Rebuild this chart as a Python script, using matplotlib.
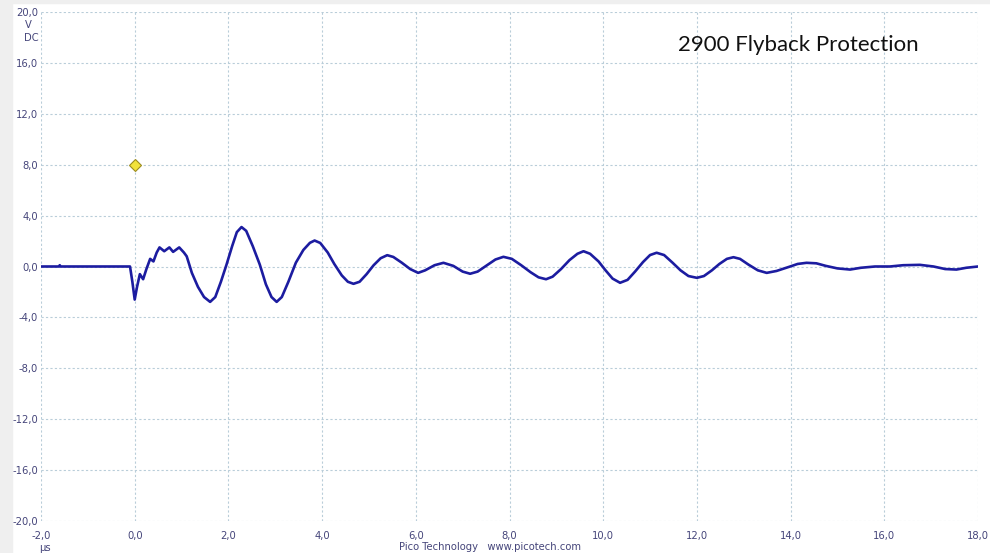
import matplotlib.pyplot as plt
from matplotlib.patches import Rectangle

# trace (time in us, voltage in V)
t_us = [-2.0, -1.62, -1.6, -1.58, -0.4, -0.1, -0.05, 0.0, 0.05, 0.11, 0.18, 0.25,
        0.33, 0.40, 0.47, 0.53, 0.63, 0.74, 0.82, 0.95, 1.05, 1.11, 1.22, 1.35,
        1.48, 1.61, 1.72, 1.84, 1.96, 2.08, 2.18, 2.28, 2.38, 2.52, 2.67, 2.80,
        2.92, 3.03, 3.14, 3.28, 3.44, 3.60, 3.74, 3.84, 3.96, 4.12, 4.26, 4.42,
        4.55, 4.67, 4.80, 4.95, 5.10, 5.25, 5.39, 5.52, 5.70, 5.88, 6.05, 6.20,
        6.40, 6.59, 6.80, 7.00, 7.16, 7.32, 7.50, 7.70, 7.87, 8.05, 8.25, 8.45,
        8.62, 8.78, 8.92, 9.10, 9.28, 9.45, 9.58, 9.72, 9.90, 10.05, 10.20, 10.36,
        10.52, 10.68, 10.85, 11.00, 11.14, 11.30, 11.48, 11.65, 11.82, 12.00,
        12.15, 12.32, 12.48, 12.64, 12.78, 12.92, 13.10, 13.30, 13.49, 13.70,
        13.99, 14.15, 14.34, 14.55, 14.75, 15.00, 15.27, 15.50, 15.80, 16.12,
        16.40, 16.76, 17.05, 17.30, 17.54, 17.75, 18.0]
volts = [0.0, 0.0, 0.1, 0.0, 0.0, 0.0, -1.2, -2.6, -1.6, -0.6, -1.0, -0.2,
         0.6, 0.4, 1.1, 1.5, 1.2, 1.5, 1.15, 1.5, 1.1, 0.8, -0.5, -1.6,
         -2.4, -2.78, -2.4, -1.2, 0.15, 1.6, 2.7, 3.1, 2.8, 1.6, 0.15, -1.4,
         -2.4, -2.78, -2.4, -1.2, 0.3, 1.3, 1.86, 2.04, 1.85, 1.1, 0.2, -0.7,
         -1.2, -1.36, -1.2, -0.6, 0.1, 0.65, 0.89, 0.75, 0.3, -0.2, -0.5, -0.3,
         0.1, 0.29, 0.05, -0.4, -0.57, -0.4, 0.05, 0.55, 0.76, 0.6, 0.1, -0.45,
         -0.85, -1.0, -0.8, -0.2, 0.5, 1.0, 1.2, 1.0, 0.4, -0.3, -0.95, -1.28,
         -1.05, -0.4, 0.35, 0.9, 1.08, 0.9, 0.3, -0.3, -0.75, -0.89,
         -0.75, -0.3, 0.2, 0.6, 0.73, 0.6, 0.15, -0.3, -0.5, -0.35,
         0.0, 0.2, 0.29, 0.25, 0.05, -0.15, -0.24, -0.1, 0.0, 0.0,
         0.1, 0.13, 0.0, -0.2, -0.24, -0.1, 0.0]

trigger_t = [0.0]
trigger_v = [8.0]

x_ticks = [-2, 0, 2, 4, 6, 8, 10, 12, 14, 16, 18]
x_labels = ["-2,0", "0,0", "2,0", "4,0", "6,0", "8,0", "10,0", "12,0", "14,0", "16,0", "18,0"]
y_ticks = [20, 16, 12, 8, 4, 0, -4, -8, -12, -16, -20]
y_labels = ["20,0", "16,0", "12,0", "8,0", "4,0", "0,0", "-4,0", "-8,0", "-12,0", "-16,0", "-20,0"]

W, H = 990, 553
fig = plt.figure(figsize=(W / 100, H / 100), dpi=100)
fig.patch.set_facecolor("white")
# grey window edge on the left / top, kept behind the axes
fig.patches.append(Rectangle((0, 0), 12 / W, 1, transform=fig.transFigure,
                             color="#efefef", zorder=-5))
fig.patches.append(Rectangle((0, 1 - 3 / H), 1, 3 / H, transform=fig.transFigure,
                             color="#efefef", zorder=-5))

ax = fig.add_axes([41 / W, 32 / H, 937 / W, 509 / H])
ax.patch.set_alpha(0)
ax.set_xlim(-2, 18)
ax.set_ylim(-20, 20)
for s in ax.spines.values():
    s.set_visible(False)
ax.set_xticks(x_ticks)
ax.set_xticklabels(x_labels)
ax.set_yticks(y_ticks)
ax.set_yticklabels(y_labels)
ax.tick_params(length=0, labelsize=7.2, labelcolor="#45457a", pad=2)
ax.tick_params(axis="x", pad=7)
ax.grid(True, color="#b9cdd9", linestyle=(0, (2, 2)), linewidth=0.8)
ax.set_axisbelow(True)

ax.plot(t_us, volts, color="#1c1ca0", linewidth=1.9, solid_joinstyle="round", zorder=3)
ax.plot(trigger_t, trigger_v, marker="D", markersize=6.5, color="#f2e23c",
        markeredgecolor="#9c8c20", markeredgewidth=0.8, linestyle="none", zorder=4)

fig.text(28 / W, 1 - 25 / H, "V", fontsize=7.2, color="#45457a", ha="center", va="center")
fig.text(31 / W, 1 - 38 / H, "DC", fontsize=7.2, color="#45457a", ha="center", va="center")
fig.text(45 / W, 1 - 548 / H, "µs", fontsize=7.2, color="#45457a", ha="center", va="center")
fig.text(490 / W, 1 - 547 / H, "Pico Technology   www.picotech.com", fontsize=7.2,
         color="#45457a", ha="center", va="center")
fig.text(678 / W, 1 - 45 / H, "2900 Flyback Protection", fontsize=16,
         family="Lato", color="#111111", ha="left", va="center")

fig.savefig("out.png", dpi=100)
